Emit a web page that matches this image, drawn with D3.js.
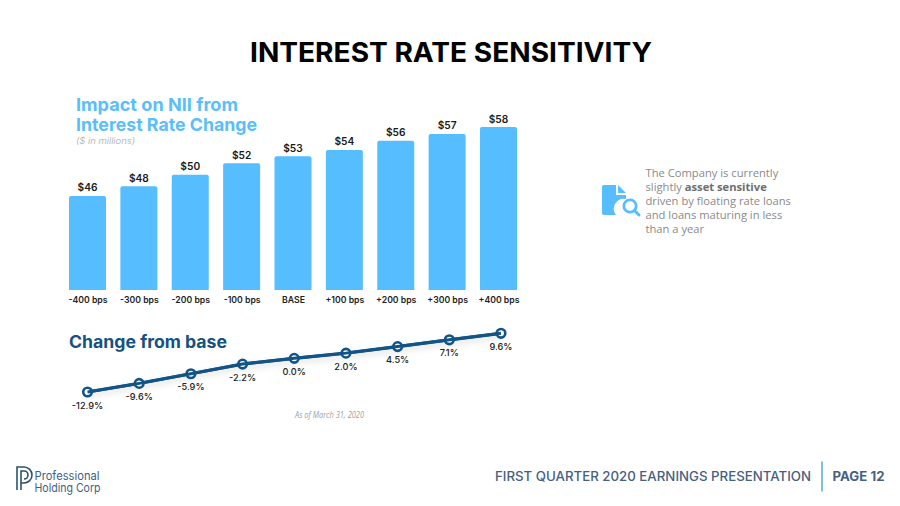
<!DOCTYPE html>
<html><head><meta charset="utf-8">
<script src="https://cdn.jsdelivr.net/npm/d3@7"></script>
<style>html,body{margin:0;padding:0;background:#fff}svg{display:block}text{font-family:Inter,sans-serif}</style>
</head><body><div id="c"></div>
<script>
const categories=["-400 bps","-300 bps","-200 bps","-100 bps","BASE","+100 bps","+200 bps","+300 bps","+400 bps"];
const niiValues=[46,47.7,49.7,51.7,52.9,54,55.6,56.8,58];
const changeValues=[-12.9,-9.6,-5.9,-2.2,0,2,4.5,7.1,9.6];
const noteLines=[["The Company is currently"],["slightly ","asset sensitive"],["driven by floating rate loans"],["and loans maturing in less"],["than a year"]];

const W=900,H=506;
const svg=d3.select("#c").append("svg").attr("width",W).attr("height",H).attr("viewBox",`0 0 ${W} ${H}`);
const defs=svg.append("defs");
const f=defs.append("filter").attr("id","sh").attr("x","-5%").attr("y","-30%").attr("width","110%").attr("height","170%");
f.append("feDropShadow").attr("dx",0).attr("dy",3).attr("stdDeviation",3).attr("flood-color","#000").attr("flood-opacity",0.14);

function label(x,y,s,o={}){
  const t=svg.append("text").attr("x",x).attr("y",y).text(s)
    .attr("font-size",o.size||12).attr("font-weight",o.weight||400).attr("fill",o.fill||"#000")
    .attr("text-anchor",o.anchor||"start");
  if(o.family)t.style("font-family",o.family);
  if(o.style)t.attr("font-style",o.style);
  if(o.len)t.attr("textLength",o.len).attr("lengthAdjust","spacingAndGlyphs");
  return t;
}

label(451,62,"INTEREST RATE SENSITIVITY",{size:27,weight:700,anchor:"middle",len:402});
label(76,111,"Impact on NII from",{size:18,weight:700,fill:"#5ABEFB",len:162});
label(76,131,"Interest Rate Change",{size:18,weight:700,fill:"#5ABEFB",len:181});
label(76,144,"($ in millions)",{size:9,style:"italic",weight:300,fill:"#a6a6a6",len:59});

const xb=d3.scalePoint().domain(categories).range([87.5,498.5]);
const xp=d3.scalePoint().domain(categories).range([87.5,501]);
const y=d3.scaleLinear().domain([29.65,58]).range([290,127]);

svg.append("g").selectAll("path").data(niiValues).join("path")
  .attr("fill","#56BDFF")
  .attr("d",(d,i)=>{
    const c=xb(categories[i]),w=37,r=2,l=c-w/2,t=y(d),b=y.range()[0];
    const p=d3.path();p.moveTo(l,b);p.lineTo(l,t+r);p.quadraticCurveTo(l,t,l+r,t);p.lineTo(l+w-r,t);p.quadraticCurveTo(l+w,t,l+w,t+r);p.lineTo(l+w,b);p.closePath();return p.toString();
  });
svg.append("g").selectAll("text").data(niiValues).join("text")
  .attr("x",(d,i)=>xb(categories[i])).attr("y",d=>y(d)-4.5).attr("text-anchor","middle")
  .attr("font-size",10.2).attr("font-weight",600).attr("fill","#1a1a1a")
  .text(d=>"$"+Math.round(d));

const xAxis=d3.axisBottom(xb).tickSize(0).tickPadding(0);
const gx=svg.append("g").attr("transform","translate(0,293)").call(xAxis);
gx.select(".domain").remove();
gx.selectAll("text").attr("y",10).attr("dy",0).attr("font-size",8.7).attr("font-weight",600).attr("fill","#222").style("font-family","Inter,sans-serif");

label(69,348,"Change from base",{size:17,weight:700,fill:"#15527F",len:158});

const yc=d3.scaleLinear().domain([-12.9,9.6]).range([392,333.3]);
const line=d3.line().x((d,i)=>xp(categories[i])).y(d=>yc(d));
svg.append("path").datum(changeValues).attr("d",line).attr("fill","none").attr("stroke","#125488").attr("stroke-width",3.2).attr("filter","url(#sh)");
svg.append("g").selectAll("circle").data(changeValues).join("circle")
  .attr("cx",(d,i)=>xp(categories[i])).attr("cy",d=>yc(d)).attr("r",4.3)
  .attr("fill","#fff").attr("stroke","#125488").attr("stroke-width",2.6);
svg.append("path").datum(changeValues).attr("d",line).attr("fill","none").attr("stroke","#125488").attr("stroke-width",3);
svg.append("g").selectAll("text").data(changeValues).join("text")
  .attr("x",(d,i)=>xp(categories[i])).attr("y",d=>yc(d)+16.5).attr("text-anchor","middle")
  .attr("font-size",9.2).attr("font-weight",500).attr("fill","#222")
  .text(d=>d.toFixed(1)+"%");

label(295,418,"As of March 31, 2020",{size:8.4,style:"italic",fill:"#a0a0a0",family:"'Open Sans',sans-serif",len:69});

// note
const noteG=svg.append("g");
noteLines.forEach((ln,i)=>{
  const t=noteG.append("text").attr("x",645.5).attr("y",177+i*14).attr("font-size",11.2).attr("fill","#8a8a8a").style("font-family","'Open Sans',sans-serif");
  ln.forEach((s,j)=>t.append("tspan").text(s).attr("font-weight",j==1?700:400).attr("fill",j==1?"#6e6e6e":"#8a8a8a"));
});

// icon
const ic=svg.append("g").attr("fill","#56BDFF");
ic.append("path").attr("d","M604 185H616V195H626V199A10 10 0 0 0 616 215H604Q602 215 602 213V187Q602 185 604 185Z");
ic.append("path").attr("d","M618 185L626 193H618Z");
ic.append("circle").attr("cx",630).attr("cy",206).attr("r",6.2).attr("fill","#fff").attr("stroke","#56BDFF").attr("stroke-width",2.8);
ic.append("path").attr("d","M634.5 210.5L639 215").attr("stroke","#56BDFF").attr("stroke-width",3).attr("stroke-linecap","round");

// logo
svg.append("path").attr("d","M17 490V467H24A8 8 0 0 1 24 483H21V471H24A4 4 0 0 1 24 479").attr("fill","none").attr("stroke","#2A5273").attr("stroke-width",1.6);
svg.append("path").attr("d","M21 483V490").attr("stroke","#2A5273").attr("stroke-width",1.6);
label(34.5,479.5,"Professional",{size:11.5,weight:400,fill:"#3F5F7F",len:65});
label(34.5,492,"Holding Corp",{size:11.5,weight:400,fill:"#3F5F7F",len:66});

// footer
label(495,481,"FIRST QUARTER 2020 EARNINGS PRESENTATION",{size:12.5,weight:500,fill:"#46617F",len:316});
svg.append("rect").attr("x",821).attr("y",461.5).attr("width",2).attr("height",30).attr("fill","#7CC0E8");
label(832.5,481,"PAGE 12",{size:12.5,weight:700,fill:"#46617F",len:52});
</script></body></html>
